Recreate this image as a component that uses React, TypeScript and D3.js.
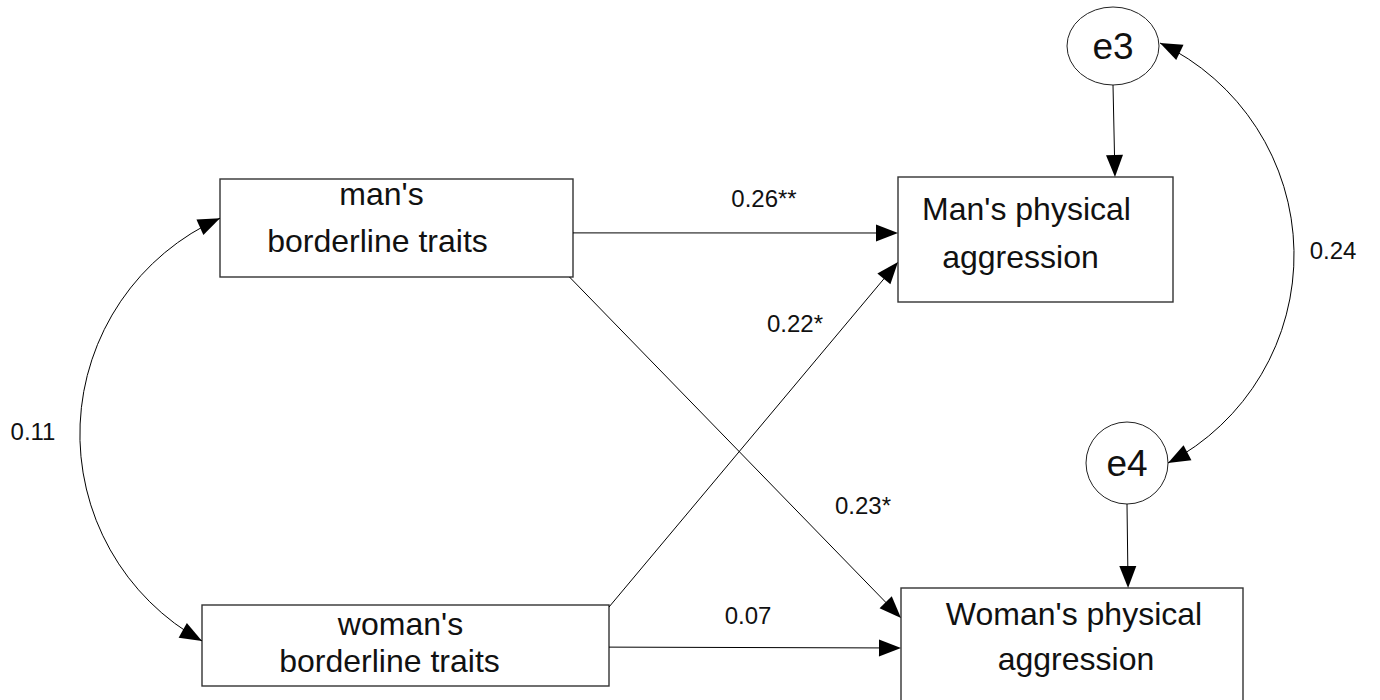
import React, { useEffect, useRef } from 'react';
import * as d3 from 'd3';

// variable names (two lines each for the observed boxes)
const observedNames = [
  ["man's", "borderline traits"],
  ["Man's physical", "aggression"],
  ["woman's", "borderline traits"],
  ["Woman's physical", "aggression"],
];
const errorNames = ["e3", "e4"];

// regression weights, in order: mb->mp, wb->mp, mb->wp, wb->wp
const pathCoefs = ["0.26**", "0.22*", "0.23*", "0.07"];
// covariances: mb<->wb, e3<->e4
const covCoefs = ["0.11", "0.24"];

const WIDTH = 1380;
const HEIGHT = 700;
const FONT = "'Liberation Sans', Arial, sans-serif";

type Box = { x: number; y: number; w: number; h: number; t1: [number, number]; t2: [number, number] };
type Ell = { cx: number; cy: number; rx: number; ry: number; ty: number };

// diagram layout
const boxes: Box[] = [
  { x: 220, y: 179, w: 353, h: 98, t1: [-15, 26], t2: [-19, 73] },
  { x: 898, y: 177, w: 275, h: 125, t1: [-9, 43], t2: [-15, 91] },
  { x: 202, y: 605, w: 407, h: 81, t1: [-5, 30], t2: [-16, 67] },
  { x: 901, y: 588, w: 342, h: 125, t1: [2, 37], t2: [4, 82] },
];
const ellipses: Ell[] = [
  { cx: 1113, cy: 46, rx: 46, ry: 39, ty: 59 },
  { cx: 1127, cy: 463, rx: 41, ry: 41, ty: 476 },
];

const at = (b: Box, fx: number, fy: number): [number, number] => [b.x + fx * b.w, b.y + fy * b.h];

const App: React.FC = () => {
  const svgRef = useRef<SVGSVGElement>(null);

  useEffect(() => {
    const svg = d3.select(svgRef.current);
    svg.selectAll('*').remove();
    const g = svg.append('g');

    const ARROW_LEN = 22;
    const ARROW_HW = 8.5;

    function arrowHead(tip: [number, number], ux: number, uy: number) {
      const bx = tip[0] - ux * ARROW_LEN;
      const by = tip[1] - uy * ARROW_LEN;
      const px = -uy, py = ux;
      g.append('path')
        .attr('d', `M${tip[0]},${tip[1]}L${bx + px * ARROW_HW},${by + py * ARROW_HW}L${bx - px * ARROW_HW},${by - py * ARROW_HW}Z`)
        .attr('fill', '#000');
    }

    function straight(from: [number, number], to: [number, number]) {
      const dx = to[0] - from[0], dy = to[1] - from[1];
      const len = Math.hypot(dx, dy);
      const ux = dx / len, uy = dy / len;
      g.append('path')
        .attr('d', d3.line()([from, [to[0] - ux * ARROW_LEN * 0.6, to[1] - uy * ARROW_LEN * 0.6]]))
        .attr('stroke', '#000').attr('stroke-width', 1).attr('fill', 'none');
      arrowHead(to, ux, uy);
    }

    // double headed circular arc, bulging by sagitta s to the side given by sign
    function curved(p0: [number, number], p1: [number, number], s: number, side: number) {
      const mx = (p0[0] + p1[0]) / 2, my = (p0[1] + p1[1]) / 2;
      const dx = p1[0] - p0[0], dy = p1[1] - p0[1];
      const L = Math.hypot(dx, dy);
      const nx = (-dy / L) * side, ny = (dx / L) * side;
      const R = (s * s + (L / 2) * (L / 2)) / (2 * s);
      const cx = mx + nx * (s - R), cy = my + ny * (s - R);
      const a0 = Math.atan2(p0[1] - cy, p0[0] - cx);
      const a1 = Math.atan2(p1[1] - cy, p1[0] - cx);
      let delta = a1 - a0;
      while (delta > Math.PI) delta -= 2 * Math.PI;
      while (delta < -Math.PI) delta += 2 * Math.PI;
      const sg = delta >= 0 ? 1 : -1;
      const p = d3.path();
      p.moveTo(p0[0], p0[1]);
      p.arc(cx, cy, R, a0, a1, delta < 0);
      g.append('path').attr('d', p.toString())
        .attr('stroke', '#000').attr('stroke-width', 1).attr('fill', 'none');
      // tangent directions
      arrowHead(p1, sg * -Math.sin(a1), sg * Math.cos(a1));
      arrowHead(p0, -sg * -Math.sin(a0), -sg * Math.cos(a0));
    }

    // boxes
    boxes.forEach((b, i) => {
      g.append('rect')
        .attr('x', b.x).attr('y', b.y).attr('width', b.w).attr('height', b.h)
        .attr('fill', '#fff').attr('stroke', '#333').attr('stroke-width', 1.4);
      const cx = b.x + b.w / 2;
      [b.t1, b.t2].forEach((t, j) => {
        g.append('text')
          .attr('x', cx + t[0]).attr('y', b.y + t[1])
          .attr('text-anchor', 'middle')
          .attr('font-family', FONT).attr('font-size', 32)
          .attr('fill', '#111')
          .text(observedNames[i][j]);
      });
    });

    // error terms
    ellipses.forEach((e, i) => {
      g.append('ellipse')
        .attr('cx', e.cx).attr('cy', e.cy).attr('rx', e.rx).attr('ry', e.ry)
        .attr('fill', '#fff').attr('stroke', '#222').attr('stroke-width', 1);
      g.append('text')
        .attr('x', e.cx).attr('y', e.ty)
        .attr('text-anchor', 'middle')
        .attr('font-family', FONT).attr('font-size', 37)
        .attr('fill', '#111')
        .text(errorNames[i]);
    });

    const [mb, mp, wb, wp] = boxes;
    const [e3, e4] = ellipses;

    // regression paths
    straight(at(mb, 1, 0.55), at(mp, 0, 0.448));
    straight(at(wb, 1, 0.025), at(mp, 0, 0.68));
    straight(at(mb, 0.99, 1), at(wp, 0, 0.24));
    straight(at(wb, 1, 0.52), at(wp, 0, 0.48));

    // error -> variable
    straight([e3.cx, e3.cy + e3.ry], at(mp, 0.789, 0));
    straight([e4.cx, e4.cy + e4.ry], at(wp, 0.664, 0));

    // covariances
    curved(at(mb, 0, 0.4), at(wb, 0, 0.444), 131, 1);
    curved([e3.cx + e3.rx + 1, e3.cy - 3], [e4.cx + e4.rx, e4.cy], 130, -1);

    // coefficient labels
    const labelPos: [number, number][] = [[764, 207], [795, 332], [863, 514], [748, 624]];
    pathCoefs.forEach((c, i) => {
      g.append('text')
        .attr('x', labelPos[i][0]).attr('y', labelPos[i][1])
        .attr('text-anchor', 'middle')
        .attr('font-family', FONT).attr('font-size', 24)
        .attr('fill', '#111')
        .text(c);
    });
    const covPos: [number, number][] = [[33, 440], [1333, 259]];
    covCoefs.forEach((c, i) => {
      g.append('text')
        .attr('x', covPos[i][0]).attr('y', covPos[i][1])
        .attr('text-anchor', 'middle')
        .attr('font-family', FONT).attr('font-size', 24)
        .attr('fill', '#111')
        .text(c);
    });
  }, []);

  return (
    <svg
      ref={svgRef}
      width={WIDTH}
      height={HEIGHT}
      style={{ position: 'absolute', left: 0, top: 0, background: '#fff' }}
    />
  );
};

export default App;
